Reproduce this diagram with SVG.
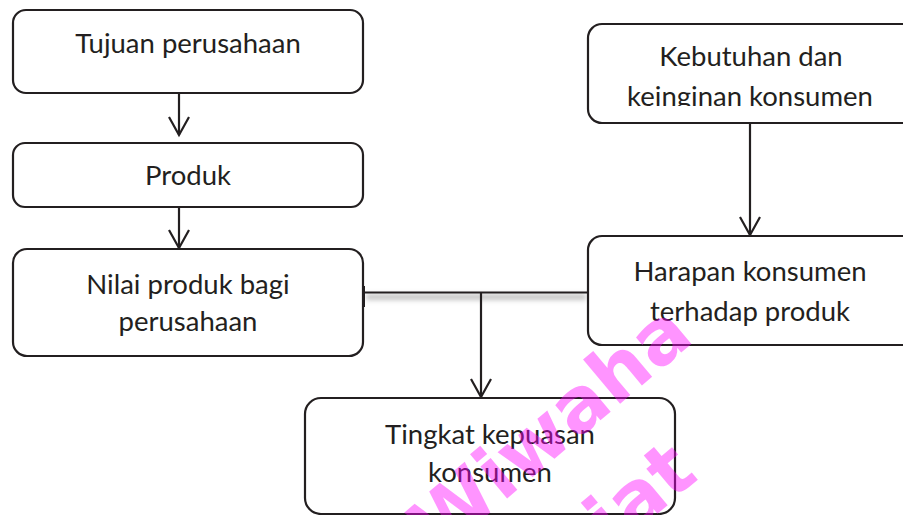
<svg xmlns="http://www.w3.org/2000/svg" width="903" height="515" viewBox="0 0 903 515">
<defs>
<style>
.box{fill:#fff;stroke:#231f20;stroke-width:2.2}
.lbl{font-family:Lato,"Open Sans","Liberation Sans",sans-serif;font-size:27.5px;fill:#231f20;text-anchor:middle}
.con{fill:none;stroke:#231f20;stroke-width:2.2}
.wm{font-family:"DejaVu Sans","Liberation Sans",sans-serif;font-weight:bold;font-size:76px;fill:#ff00ff;fill-opacity:0.42}
</style>
<marker id="ah" markerUnits="userSpaceOnUse" markerWidth="24" markerHeight="24" viewBox="-20 -12 24 24" refX="0" refY="0" orient="auto">
<path d="M-18,-10 L0,0 L-18,10" fill="none" stroke="#231f20" stroke-width="2.2"/>
</marker>
<filter id="blur" x="-10%" y="-200%" width="120%" height="500%"><feGaussianBlur stdDeviation="2.5"/></filter>
<clipPath id="clipK"><rect x="585" y="20" width="330" height="86"/></clipPath>
</defs>

<g id="connectors">
<rect x="366" y="294" width="220" height="6" fill="#c4c4c4" filter="url(#blur)"/>
<line class="con" x1="179" y1="93" x2="179" y2="135" marker-end="url(#ah)"/>
<line class="con" x1="179" y1="207" x2="179" y2="248" marker-end="url(#ah)"/>
<line class="con" x1="750" y1="123" x2="750" y2="235" marker-end="url(#ah)"/>
<line class="con" x1="363" y1="292.5" x2="589" y2="292.5"/>
<line class="con" x1="481" y1="292.5" x2="481" y2="397" marker-end="url(#ah)"/>
<rect x="361" y="286" width="4" height="21" fill="#231f20"/>
<rect x="587" y="287" width="4" height="20" fill="#231f20"/>
</g>

<g id="node-tujuan">
<rect class="box" x="13" y="10" width="350" height="83" rx="13"/>
<text class="lbl" x="188" y="53">Tujuan perusahaan</text>
</g>
<g id="node-produk">
<rect class="box" x="13" y="143" width="350" height="64" rx="12"/>
<text class="lbl" x="188" y="185">Produk</text>
</g>
<g id="node-nilai">
<rect class="box" x="13" y="249" width="350" height="107" rx="14"/>
<text class="lbl" x="188" y="294">Nilai produk bagi</text>
<text class="lbl" x="188" y="331">perusahaan</text>
</g>
<g id="node-kebutuhan">
<rect class="box" x="588" y="24" width="330" height="99" rx="14"/>
<g clip-path="url(#clipK)">
<text class="lbl" x="751" y="66">Kebutuhan dan</text>
<text class="lbl" x="750" y="106">keinginan konsumen</text>
</g>
</g>
<g id="node-harapan">
<rect class="box" x="588" y="236" width="330" height="109" rx="14"/>
<text class="lbl" x="750" y="281">Harapan konsumen</text>
<text class="lbl" x="750" y="321">terhadap produk</text>
</g>
<g id="node-tingkat">
<rect class="box" x="305" y="398" width="370" height="116" rx="16"/>
<text class="lbl" x="490" y="444">Tingkat kepuasan</text>
<text class="lbl" x="490" y="482">konsumen</text>
</g>

<g id="watermark">
<text class="wm" text-anchor="end" transform="translate(696,340) rotate(-40)">Wiwaha</text>
<text class="wm" text-anchor="end" transform="translate(700,478) rotate(-40)">Plagiat</text>
</g>
</svg>
